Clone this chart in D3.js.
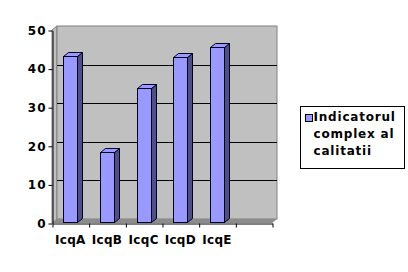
<!DOCTYPE html>
<html>
<head>
<meta charset="utf-8">
<script src="https://cdn.jsdelivr.net/npm/d3@7"></script>
<style>
    body { margin: 0; background: #fff; }
    svg { display: block; }
    text { font-family: "DejaVu Sans", Arial, sans-serif; font-weight: bold; fill: #000; }
</style>
</head>
<body>
<svg id="chart"></svg>
<script>
// chart data
const categories = ["IcqA", "IcqB", "IcqC", "IcqD", "IcqE", ""];
const values = [43.1, 18.1, 34.7, 42.8, 45.4];
const yTicks = [0, 10, 20, 30, 40, 50];
const seriesName = ["Indicatorul", "complex al", "calitatii"];

class Bar3D {
    margin = { top: 30, right: 136, bottom: 49, left: 52 }
    depth = { dx: 5, dy: -4 }

    constructor(svg, width = 408, height = 272) {
        this.svg = d3.select(svg).attr("width", width).attr("height", height);
        this.width = width;
        this.height = height;
    }

    initialize() {
        const self = this;
        const m = this.margin, dx = this.depth.dx, dy = this.depth.dy;
        const x0 = m.left, x1 = this.width - m.right;
        const y0 = this.height - m.bottom, y1 = m.top;

        this.x = d3.scaleBand().domain(categories.map((c, i) => i)).range([x0, x1]).padding(0);
        this.y = d3.scaleLinear().domain([0, 50]).range([y0, y1]);

        const g = this.svg.append("g");

        // left side wall
        g.append("polygon")
            .attr("points", [[x0, y0], [x0 + dx, y0 + dy], [x0 + dx, y1 + dy], [x0, y1]].join(" "))
            .attr("fill", "#c0c0c0").attr("stroke", "#808080");

        // back wall
        g.append("rect")
            .attr("x", x0 + dx).attr("y", y1 + dy)
            .attr("width", x1 - x0).attr("height", y0 - y1)
            .attr("fill", "#c0c0c0").attr("stroke", "#808080");

        // gridlines on back wall
        g.selectAll(".grid")
            .data(yTicks.filter(t => t > 0 && t < 50))
            .join("line")
            .attr("class", "grid")
            .attr("x1", x0 + dx).attr("x2", x1 + dx)
            .attr("y1", d => Math.round(self.y(d) + dy) + 0.5)
            .attr("y2", d => Math.round(self.y(d) + dy) + 0.5)
            .attr("stroke", "#000");

        // floor
        g.append("polygon")
            .attr("points", [[x0, y0], [x1, y0], [x1 + dx, y0 + dy], [x0 + dx, y0 + dy]].join(" "))
            .attr("fill", "#8c8c8c");

        // bars
        const bw = Math.round(this.x.bandwidth() * 0.38);
        const base = y0 - 1;
        const bars = g.selectAll(".bar")
            .data(values)
            .join("g")
            .attr("class", "bar");

        bars.each(function(d, i) {
            const cx = self.x(i) + self.x.bandwidth() / 2;
            const left = Math.round(cx - bw / 2) + 0.5;
            const right = left + bw;
            const top = Math.round(self.y(d) - 1) + 0.5;
            const b = base + 0.5;
            const el = d3.select(this);
            el.append("polygon")
                .attr("points", [[right, b], [right + dx, b + dy], [right + dx, top + dy], [right, top]].join(" "))
                .attr("fill", "#4f4f85").attr("stroke", "#000022").attr("stroke-width", 1);
            el.append("polygon")
                .attr("points", [[left, top], [right, top], [right + dx, top + dy], [left + dx, top + dy]].join(" "))
                .attr("fill", "#9999ff").attr("stroke", "#000022").attr("stroke-width", 1);
            el.append("rect")
                .attr("x", left).attr("y", top)
                .attr("width", bw).attr("height", b - top)
                .attr("fill", "#9999ff").attr("stroke", "#000022").attr("stroke-width", 1);
        });

        // y axis
        const yAxis = this.svg.append("g")
            .attr("transform", `translate(${x0 + 0.5}, 0.5)`)
            .call(d3.axisLeft(this.y).tickValues(yTicks).tickSize(4).tickSizeOuter(0).tickPadding(3));
        yAxis.select(".domain").attr("stroke", "#000");
        yAxis.selectAll("text").attr("font-size", 12).style("letter-spacing", "1px")
            .attr("font-family", null).attr("dx", "1px");

        // x axis: tick marks at category boundaries
        const xb = d3.scaleLinear().domain([0, categories.length]).range([x0, x1]);
        const xTicksG = this.svg.append("g")
            .attr("transform", `translate(0.5, ${y0 + 0.5})`)
            .call(d3.axisBottom(xb).tickValues(d3.range(categories.length + 1)).tickFormat("").tickSize(4).tickSizeOuter(0));
        xTicksG.select(".domain").attr("stroke", "#000");

        const xLabels = this.svg.append("g")
            .attr("transform", `translate(0, ${y0})`)
            .call(d3.axisBottom(this.x).tickFormat(i => categories[i]).tickSize(0).tickPadding(12));
        xLabels.select(".domain").remove();
        xLabels.selectAll("text").attr("font-size", 12).attr("font-family", null)
            .style("letter-spacing", "0.3px");

        // legend
        const lg = this.svg.append("g").attr("transform", "translate(300.5, 106.5)");
        lg.append("rect").attr("width", 104).attr("height", 62)
            .attr("fill", "#fff").attr("stroke", "#000");
        lg.append("rect").attr("x", 5).attr("y", 8).attr("width", 7).attr("height", 7)
            .attr("fill", "#9999ff").attr("stroke", "#000");
        lg.selectAll(".lt")
            .data(seriesName)
            .join("text")
            .attr("class", "lt")
            .attr("x", 13)
            .attr("y", (d, i) => 14 + i * 17)
            .attr("font-size", 12)
            .style("letter-spacing", "0.8px")
            .text(d => d);
    }
}

const chart = new Bar3D(document.getElementById("chart"));
chart.initialize();
</script>
</body>
</html>
